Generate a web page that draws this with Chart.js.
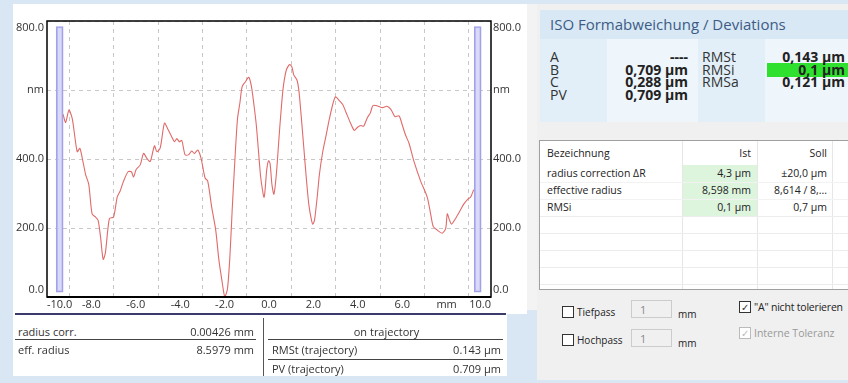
<!DOCTYPE html>
<html>
<head>
<meta charset="utf-8">
<script src="https://cdn.jsdelivr.net/npm/chart.js@4"></script>
<style>
body { margin: 0; width: 848px; height: 383px; background: #d9e6f3; position: relative; overflow: hidden; font-family: 'Open Sans', sans-serif; color: #333; }
.box { position: absolute; }
.t { position: absolute; white-space: nowrap; height: 16px; line-height: 16px; font-size: 11px; }
.r { text-align: right; }
.hl { position: absolute; height: 1px; background: #444; }
.v { position: absolute; font-size: 14px; line-height: 12.5px; white-space: nowrap; color: #333; }
.b { font-weight: bold; color: #222; }
.cell { position: absolute; font-size: 10.5px; line-height: 16px; height: 16px; white-space: nowrap; color: #222; }
.cb { position: absolute; width: 10px; height: 10px; border: 1px solid #333; background: #fff; }
.inp { position: absolute; width: 41px; height: 18px; border: 1px solid #ccc; background: #f0f0f0; color: #888; font-size: 11px; line-height: 18px; padding-left: 8px; box-sizing: border-box; }
</style>
</head>
<body>

<div class="box" style="left:13px;top:4px;width:514px;height:310px;background:#fff;"></div>
<div class="box" style="left:13px;top:312px;width:494px;height:64px;background:#fff;"></div>
<div class="box" style="left:527px;top:4px;width:10px;height:306px;background:#f3f3f3;"></div>

<div class="box" style="left:13px;top:4px;width:514px;height:310px;">
  <canvas id="formChart"></canvas>
</div>

<!-- bottom table -->
<div class="box" style="left:15px;top:313px;width:491px;height:2px;background:#3b3b6b;"></div>
<div class="t" style="left:18px;top:324px;">radius corr.</div>
<div class="t r" style="right:594px;top:324px;">0.00426 mm</div>
<div class="t" style="left:270px;top:324px;width:233px;text-align:center;">on trajectory</div>
<div class="hl" style="left:15px;top:339px;width:241px;"></div>
<div class="hl" style="left:268px;top:339px;width:235px;"></div>
<div class="t" style="left:18px;top:342px;">eff. radius</div>
<div class="t r" style="right:594px;top:342px;">8.5979 mm</div>
<div class="t" style="left:272px;top:342px;">RMSt (trajectory)</div>
<div class="t r" style="right:347px;top:342px;">0.143 µm</div>
<div class="hl" style="left:268px;top:359px;width:235px;"></div>
<div class="t" style="left:272px;top:361px;">PV (trajectory)</div>
<div class="t r" style="right:347px;top:361px;">0.709 µm</div>
<div class="box" style="left:263px;top:318px;width:1px;height:58px;background:#555;"></div>

<!-- right panel -->
<div class="box" style="left:537px;top:4px;width:311px;height:376px;background:#f0f0f0;"></div>
<div class="box" style="left:540px;top:10px;width:308px;height:29px;background:#d8e8f5;"></div>
<div class="box" style="left:550px;top:14px;font-size:15px;line-height:20px;color:#3d5c85;white-space:nowrap;">ISO Formabweichung / Deviations</div>

<div class="box" style="left:540px;top:39px;width:67px;height:83px;background:#e2eff9;"></div>
<div class="box" style="left:607px;top:39px;width:91px;height:83px;background:#eef5fb;"></div>
<div class="box" style="left:698px;top:39px;width:67px;height:83px;background:#e2eff9;"></div>
<div class="box" style="left:765px;top:39px;width:83px;height:83px;background:#eef5fb;"></div>
<div class="box" style="left:767px;top:63px;width:81px;height:14px;background:#2fe02f;"></div>

<div class="v" style="left:550px;top:51px;">A<br>B<br>C<br>PV</div>
<div class="v b r" style="right:160px;top:51px;">----<br>0,709 µm<br>0,288 µm<br>0,709 µm</div>
<div class="v" style="left:702px;top:51px;">RMSt<br>RMSi<br>RMSa</div>
<div class="v b r" style="right:3px;top:51px;">0,143 µm<br>0,1 µm<br>0,121 µm</div>

<!-- right table -->
<div class="box" style="left:539px;top:140px;width:309px;height:150px;background:#fff;border:1px solid #a0a0a0;border-right:none;box-sizing:border-box;"></div>
<div class="box" style="left:682px;top:165px;width:75px;height:51px;background:#ddf5dd;"></div>
<div class="box" style="left:682px;top:141px;width:1px;height:148px;background:#e6e6e6;"></div>
<div class="box" style="left:757px;top:141px;width:1px;height:148px;background:#e6e6e6;"></div>
<div class="box" style="left:832px;top:141px;width:1px;height:148px;background:#e6e6e6;"></div>
<div class="box" style="left:540px;top:216px;width:308px;height:1px;background:#ececec;"></div>
<div class="box" style="left:540px;top:233px;width:308px;height:1px;background:#ececec;"></div>
<div class="box" style="left:540px;top:250px;width:308px;height:1px;background:#ececec;"></div>
<div class="box" style="left:540px;top:267px;width:308px;height:1px;background:#ececec;"></div>
<div class="box" style="left:540px;top:284px;width:308px;height:1px;background:#ececec;"></div>
<div class="box" style="left:540px;top:182px;width:308px;height:1px;background:#f2f2f2;"></div>
<div class="box" style="left:540px;top:199px;width:308px;height:1px;background:#f2f2f2;"></div>

<div class="cell" style="left:547px;top:145px;">Bezeichnung</div>
<div class="cell r" style="right:97px;top:145px;">Ist</div>
<div class="cell r" style="right:21px;top:145px;">Soll</div>
<div class="cell" style="left:547px;top:165px;">radius correction ΔR</div>
<div class="cell r" style="right:97px;top:165px;">4,3 µm</div>
<div class="cell r" style="right:21px;top:165px;">±20,0 µm</div>
<div class="cell" style="left:547px;top:182px;">effective radius</div>
<div class="cell r" style="right:97px;top:182px;">8,598 mm</div>
<div class="cell r" style="right:21px;top:182px;">8,614 / 8,...</div>
<div class="cell" style="left:547px;top:199px;">RMSi</div>
<div class="cell r" style="right:97px;top:199px;">0,1 µm</div>
<div class="cell r" style="right:21px;top:199px;">0,7 µm</div>

<!-- filter controls -->
<div class="cb" style="left:562px;top:306px;"></div>
<div class="cell" style="left:577px;top:304px;font-size:10px;">Tiefpass</div>
<div class="inp" style="left:631px;top:300px;">1</div>
<div class="cell" style="left:678px;top:306px;font-size:10px;">mm</div>
<div class="cb" style="left:562px;top:334px;"></div>
<div class="cell" style="left:577px;top:332px;font-size:10px;">Hochpass</div>
<div class="inp" style="left:631px;top:329px;">1</div>
<div class="cell" style="left:678px;top:335px;font-size:10px;">mm</div>

<div class="cb" style="left:739px;top:301px;font-size:10px;line-height:10px;text-align:center;">&#10003;</div>
<div class="cell" style="left:754px;top:299px;font-size:10.5px;letter-spacing:-0.2px;">"A" nicht tolerieren</div>
<div class="cb" style="left:739px;top:327px;border-color:#bbb;color:#bbb;font-size:10px;line-height:10px;text-align:center;">&#10003;</div>
<div class="cell" style="left:754px;top:325px;font-size:10.5px;color:#999;">Interne Toleranz</div>

<script>
// profile trace
const xValues = [
    -9.28, -9.16, -9.01, -8.86, -8.64, -8.52, -8.41, -8.26, -8.12, -7.97,
    -7.82, -7.70, -7.59, -7.47, -7.37, -7.19, -7.00, -6.84, -6.70, -6.55,
    -6.35, -6.20, -6.10, -5.99, -5.80, -5.65, -5.50, -5.35, -5.16, -5.05,
    -4.90, -4.71, -4.56, -4.45, -4.38, -4.26, -4.15, -4.04, -3.93, -3.78,
    -3.63, -3.48, -3.36, -3.21, -3.06, -2.88, -2.76, -2.58, -2.40, -2.26,
    -2.13, -1.99, -1.87, -1.76, -1.66, -1.54, -1.42, -1.31, -1.21, -1.06,
    -0.91, -0.79, -0.67, -0.57, -0.46, -0.37, -0.22, -0.10, -0.02, 0.05,
    0.13, 0.22, 0.33, 0.48, 0.63, 0.78, 0.93, 1.03, 1.12, 1.26,
    1.35, 1.45, 1.57, 1.68, 1.79, 1.90, 1.97, 2.05, 2.17, 2.27,
    2.42, 2.57, 2.72, 2.87, 2.99, 3.13, 3.32, 3.47, 3.66, 3.84,
    3.99, 4.14, 4.26, 4.44, 4.56, 4.68, 4.82, 4.96, 5.11, 5.31,
    5.49, 5.67, 5.86, 6.01, 6.16, 6.31, 6.53, 6.83, 7.13, 7.28,
    7.40, 7.58, 7.80, 7.96, 8.03, 8.13, 8.22, 8.40, 8.63, 8.78,
    8.96, 9.08, 9.22
];
const nmValues = [
    530, 506, 542, 516, 421, 431, 402, 355, 327, 241,
    232, 223, 175, 109, 128, 227, 232, 289, 308, 336,
    363, 363, 348, 369, 383, 416, 402, 393, 438, 421,
    432, 504, 487, 473, 464, 450, 459, 450, 454, 412,
    412, 423, 416, 426, 402, 345, 336, 260, 194, 109,
    52, 0, 24, 119, 251, 393, 516, 563, 610, 624,
    637, 610, 553, 497, 412, 345, 289, 370, 395, 386,
    327, 298, 355, 487, 601, 658, 674, 667, 643, 629,
    596, 525, 431, 345, 270, 227, 211, 223, 289, 355,
    421, 468, 516, 558, 580, 572, 558, 535, 506, 483,
    492, 497, 495, 521, 533, 555, 555, 552, 549, 553,
    544, 523, 525, 497, 468, 445, 393, 336, 289, 241,
    204, 194, 185, 199, 241, 223, 211, 227, 253, 270,
    284, 289, 311
];

// evaluation window markers
const markerX = [-9.43, 9.40];
const markerLow = [14, 14];
const markerHigh = [784, 784];

const xTicks = [-10, -8, -6, -4, -2, 0, 2, 4, 6, 8, 10];
const xTickLabels = ['-10.0', '-8.0', '-6.0', '-4.0', '-2.0', '0.0', '2.0', '4.0', '6.0', 'mm', '10.0'];
const yTicks = [0, 200, 400, 600, 800];
const yTickLabels = ['0.0', '200.0', '400.0', 'nm', '800.0'];

const tickFont = { family: "'Open Sans', sans-serif", size: 11, lineHeight: '14px' };

function yLabel(value) {
    const i = yTicks.indexOf(value);
    const txt = yTickLabels[i];
    // first and last label pulled inside the frame
    if (i === 0) return [txt, ''];
    if (i === yTicks.length - 1) return ['', txt];
    return txt;
}

function yScale(pos, width, withGrid) {
    return {
        type: 'linear',
        position: pos,
        min: 0,
        max: 800,
        afterBuildTicks: s => { s.ticks = yTicks.map(v => ({ value: v })); },
        afterFit: s => { s.width = width; },
        ticks: { callback: v => yLabel(v), color: '#333', font: tickFont, padding: pos === 'left' ? 3 : 2 },
        grid: { display: withGrid, color: '#c8c8c8', drawTicks: false },
        border: { display: false, dash: [4, 4] }
    };
}

const framePlugin = {
    id: 'frame',
    afterDraw(chart) {
        const a = chart.chartArea;
        const ctx = chart.ctx;
        ctx.save();
        ctx.strokeStyle = '#000';
        ctx.lineWidth = 1.5;
        ctx.strokeRect(a.left, a.top, a.right - a.left, a.bottom - a.top);
        ctx.lineWidth = 2;
        ctx.beginPath();
        ctx.moveTo(a.left, a.bottom);
        ctx.lineTo(a.right, a.bottom);
        ctx.stroke();
        ctx.restore();
    }
};

new Chart(document.getElementById('formChart'), {
    type: 'line',
    data: {
        datasets: [
            {
                type: 'bar',
                data: markerX.map((x, i) => ({ x: x, y: [markerLow[i], markerHigh[i]] })),
                backgroundColor: 'rgba(205,205,245,0.75)',
                borderColor: '#a2a2ea',
                borderWidth: 1.5,
                borderSkipped: false,
                barThickness: 7
            },
            {
                data: xValues.map((x, i) => ({ x: x, y: nmValues[i] })),
                borderColor: '#e06a6a',
                borderWidth: 1.1,
                pointRadius: 0,
                tension: 0.25,
                fill: false
            }
        ]
    },
    options: {
        responsive: true,
        maintainAspectRatio: false,
        animation: false,
        layout: { padding: { top: 10, left: 0, right: 0, bottom: 0 } },
        plugins: { legend: { display: false }, tooltip: { enabled: false } },
        scales: {
            x: {
                type: 'linear',
                min: -10,
                max: 10,
                offset: false,
                afterBuildTicks: s => { s.ticks = xTicks.map(v => ({ value: v })); },
                afterFit: s => { s.height = 14; },
                ticks: {
                    callback: v => xTickLabels[xTicks.indexOf(v)],
                    color: '#333',
                    font: tickFont,
                    align: 'inner',
                    maxRotation: 0,
                    autoSkip: false,
                    padding: 1
                },
                grid: { color: '#c8c8c8', drawTicks: false },
                border: { display: false, dash: [4, 4] }
            },
            y: yScale('left', 34, true),
            y2: yScale('right', 36, false)
        }
    },
    plugins: [framePlugin]
});
</script>
</body>
</html>
